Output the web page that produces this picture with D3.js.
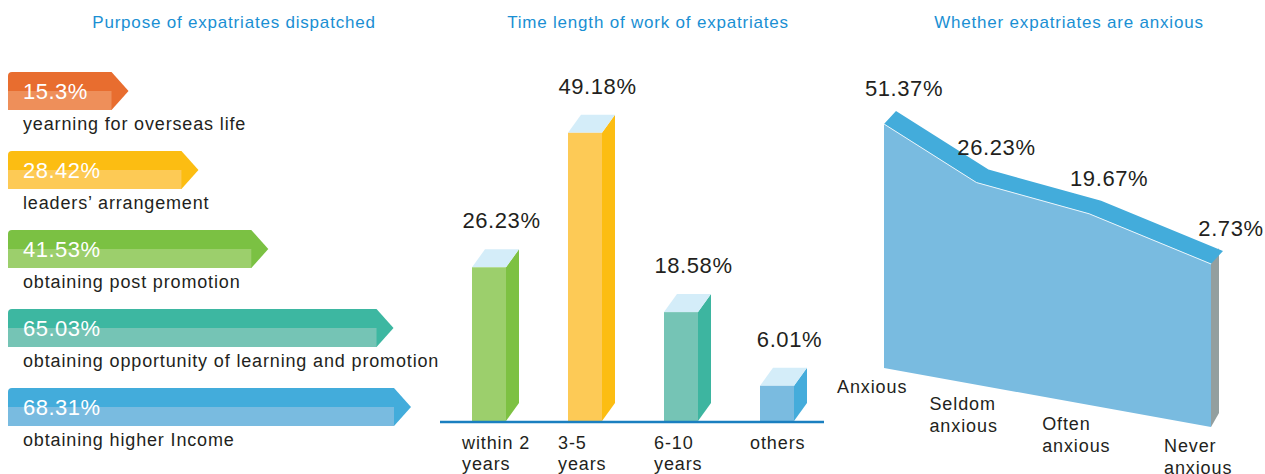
<!DOCTYPE html>
<html>
<head>
<meta charset="utf-8">
<script src="https://cdn.jsdelivr.net/npm/d3@7"></script>
<style>
  body { margin: 0; background: #fff; }
  text { font-family: "Liberation Sans", Arial, sans-serif; }
</style>
</head>
<body>
<div id="chart"></div>
<script>
// purpose of dispatch
var purposeLabels = ["yearning for overseas life", "leaders\u2019 arrangement", "obtaining post promotion",
  "obtaining opportunity of learning and promotion", "obtaining higher Income"]
var purposeValues = [15.3, 28.42, 41.53, 65.03, 68.31]
var purposeDark = ["#e86d2f", "#fcbd12", "#7bc143", "#3db7a1", "#43acdb"]
var purposeLight = ["#ee8f5a", "#fdca55", "#9ccf6c", "#75c4b5", "#79bbe0"]

// time length of work
var lengthLabels = ["within 2\nyears", "3-5\nyears", "6-10\nyears", "others"]
var lengthValues = [26.23, 49.18, 18.58, 6.01]
var lengthFront = ["#9ccf6c", "#fdca56", "#75c4b5", "#7abbe0"]
var lengthSide = ["#7dc142", "#fcbd12", "#3db5a0", "#45acdb"]

// anxiety
var anxLabels = ["Anxious", "Seldom\nanxious", "Often\nanxious", "Never\nanxious"]
var anxValues = [51.37, 26.23, 19.67, 2.73]

var width = 1265, height = 474
var textColor = "#231f20"
var titleColor = "#1a8fd3"

var svg = d3.select("#chart").append("svg")
  .attr("width", width)
  .attr("height", height)

// titles
var titles = [["Purpose of expatriates dispatched", 234], ["Time length of work of expatriates", 648], ["Whether expatriates are anxious", 1069]]
svg.selectAll(".title")
  .data(titles)
  .enter()
  .append("text")
  .attr("x", function(d) { return d[1] })
  .attr("y", 28)
  .attr("text-anchor", "middle")
  .style("font-size", "17px")
  .style("letter-spacing", "0.8px")
  .style("fill", titleColor)
  .text(function(d) { return d[0] })

////////////////////////////////////////////Purpose arrows//////////////////////////////////////////////////////////////
var xArrow = d3.scaleLinear().domain([0, 68.31]).range([30, 394])
var left = 8, arrowH = 38, arrowStep = 79, arrowTop = 72, tip = 17

var rows = svg.selectAll(".arrow")
  .data(purposeValues)
  .enter()
  .append("g")
  .attr("transform", function(d, i) { return "translate(0," + (arrowTop + i * arrowStep) + ")" })

// dark upper half + tip
rows.append("path")
  .attr("fill", function(d, i) { return purposeDark[i] })
  .attr("d", function(d) {
    var e = xArrow(d), r = 4
    return "M" + left + "," + arrowH + " L" + left + "," + r + " Q" + left + ",0 " + (left + r) + ",0" +
      " L" + e + ",0 L" + (e + tip) + "," + (arrowH / 2) + " L" + e + "," + arrowH + " Z"
  })

// lighter lower half
rows.append("rect")
  .attr("x", left)
  .attr("y", arrowH / 2)
  .attr("width", function(d) { return xArrow(d) - left })
  .attr("height", arrowH / 2)
  .attr("fill", function(d, i) { return purposeLight[i] })

rows.append("text")
  .attr("x", 23)
  .attr("y", 27)
  .style("font-size", "22px")
  .style("letter-spacing", "0.5px")
  .style("fill", "#fff")
  .text(function(d) { return d + "%" })

rows.append("text")
  .attr("x", 23)
  .attr("y", 58)
  .style("font-size", "18px")
  .style("letter-spacing", "0.85px")
  .style("fill", textColor)
  .text(function(d, i) { return purposeLabels[i] })

////////////////////////////////////////////Time length bars//////////////////////////////////////////////////////////////
var xBar = d3.scalePoint().domain(lengthLabels).range([472, 760])
var yBar = d3.scaleLinear().domain([0, 50]).range([421, 128])
var barW = 34, dx = 13, dy = 18

var bars = svg.selectAll(".bar")
  .data(lengthValues)
  .enter()
  .append("g")

// side
bars.append("path")
  .attr("fill", function(d, i) { return lengthSide[i] })
  .attr("d", function(d, i) {
    var x = xBar(lengthLabels[i]) + barW, y = yBar(d), b = yBar(0)
    return "M" + x + "," + y + " L" + (x + dx) + "," + (y - dy) + " L" + (x + dx) + "," + (b - dy) + " L" + x + "," + b + " Z"
  })
// top
bars.append("path")
  .attr("fill", "#d4edf9")
  .attr("d", function(d, i) {
    var x = xBar(lengthLabels[i]), y = yBar(d)
    return "M" + x + "," + y + " L" + (x + barW) + "," + y + " L" + (x + barW + dx) + "," + (y - dy) + " L" + (x + dx) + "," + (y - dy) + " Z"
  })
// front
bars.append("rect")
  .attr("x", function(d, i) { return xBar(lengthLabels[i]) })
  .attr("y", function(d) { return yBar(d) })
  .attr("width", barW)
  .attr("height", function(d) { return yBar(0) - yBar(d) })
  .attr("fill", function(d, i) { return lengthFront[i] })

bars.append("text")
  .attr("x", function(d, i) { return xBar(lengthLabels[i]) + (barW + dx) / 2 + 6 })
  .attr("y", function(d) { return yBar(d) - dy - 21 })
  .attr("text-anchor", "middle")
  .style("font-size", "22px")
  .style("letter-spacing", "0.6px")
  .style("fill", textColor)
  .text(function(d) { return d + "%" })

// baseline
svg.append("line")
  .attr("x1", 440).attr("x2", 824)
  .attr("y1", yBar(0) + 1).attr("y2", yBar(0) + 1)
  .attr("stroke", "#1a7fc0")
  .attr("stroke-width", 2.5)

svg.selectAll(".barLabel")
  .data(lengthLabels)
  .enter()
  .append("text")
  .attr("y", 449)
  .style("font-size", "18px")
  .style("letter-spacing", "0.9px")
  .style("fill", textColor)
  .selectAll("tspan")
  .data(function(d) { return d.split("\n") })
  .enter()
  .append("tspan")
  .attr("x", function() { return xBar(d3.select(this.parentNode).datum()) - 10 })
  .attr("dy", function(d, i) { return i ? 21 : 0 })
  .text(function(d) { return d })

////////////////////////////////////////////Anxious area//////////////////////////////////////////////////////////////
// x positions widen a bit to the right (perspective), floor slopes down
var xA = d3.scalePow().exponent(1.15).domain([0, anxLabels.length - 1]).range([884, 1211])
var yFloor = d3.scaleLinear().domain([884, 1211]).range([368, 427])
var hA = d3.scaleLinear().domain([0, 51.37]).range([158.5, 244])
var adx = 12, ady = 13

var topPts = anxValues.map(function(d, i) { var x = xA(i); return [x, yFloor(x) - hA(d)] })
var backPts = topPts.map(function(p) { return [p[0] + adx, p[1] - ady] })
var lastX = xA(anxLabels.length - 1), firstX = xA(0)
var line = d3.line()

// right side face
var lastTop = topPts[topPts.length - 1]
svg.append("path")
  .attr("fill", "#939f9f")
  .attr("d", line([lastTop, [lastTop[0] + 8, lastTop[1] - 16], [lastTop[0] + 8, yFloor(lastX) - 14], [lastX, yFloor(lastX)]]) + "Z")

// front face
svg.append("path")
  .attr("fill", "#79bbe0")
  .attr("d", line(topPts.concat([[lastX, yFloor(lastX)], [firstX, yFloor(firstX)]])) + "Z")

// top band
svg.append("path")
  .attr("fill", "#43acdb")
  .attr("d", line(topPts.concat(backPts.slice().reverse())) + "Z")

svg.append("path")
  .attr("fill", "none")
  .attr("stroke", "#e8f4fb")
  .attr("stroke-width", 1)
  .attr("d", line(topPts))

svg.selectAll(".anxValue")
  .data(anxValues)
  .enter()
  .append("text")
  .attr("x", function(d, i) { return topPts[i][0] + 20 })
  .attr("y", function(d, i) { return topPts[i][1] - 28 })
  .attr("text-anchor", "middle")
  .style("font-size", "22px")
  .style("letter-spacing", "0.6px")
  .style("fill", textColor)
  .text(function(d) { return d + "%" })

svg.selectAll(".anxLabel")
  .data(anxLabels)
  .enter()
  .append("text")
  .attr("y", function(d, i) { return yFloor(xA(i)) + 25 })
  .style("font-size", "18px")
  .style("letter-spacing", "0.9px")
  .style("fill", textColor)
  .selectAll("tspan")
  .data(function(d) { return d.split("\n") })
  .enter()
  .append("tspan")
  .attr("x", function() { return xA(anxLabels.indexOf(d3.select(this.parentNode).datum())) - 47 })
  .attr("dy", function(d, i) { return i ? 22 : 0 })
  .text(function(d) { return d })
</script>
</body>
</html>
